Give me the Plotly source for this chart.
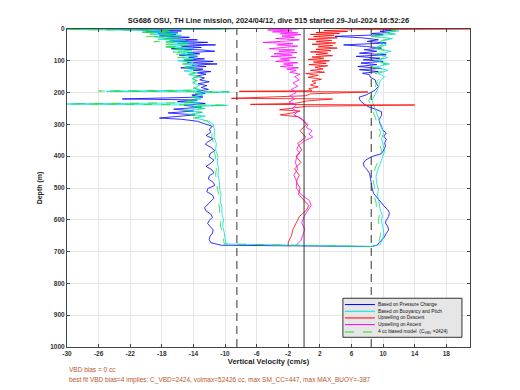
import plotly.graph_objects as go

# ---------------- data (depth in m, vertical velocity in cm/s) ----------------
blue_depth = [0, 1, 3, 6, 9, 12, 15, 18, 22, 26, 30, 34, 38, 42, 46, 50, 54, 58, 62, 66, 70, 74, 78, 82, 86, 90, 94, 98,
              102, 106, 110, 114, 118, 122, 126, 130, 134, 138, 142, 148, 154, 160, 166, 172, 178, 184, 190, 196, 202,
              208, 214, 220, 223, 228, 234, 240, 246, 252, 258, 264, 270, 276, 280, 284, 290, 298, 306, 315, 325, 335,
              345, 355, 362, 372, 382, 392, 402, 412, 422, 432, 442, 452, 462, 472, 482, 492, 502, 512, 522, 532, 542,
              552, 562, 572, 582, 592, 602, 612, 622, 632, 642, 652, 662, 672, 680, 684,
              680, 669, 656, 643, 632, 622, 610, 601, 590, 578, 569, 556, 543, 530, 517, 500, 485, 470, 455, 443, 432,
              422, 412, 401, 392, 380, 368, 359, 347, 337, 327, 316, 306, 296, 285, 272, 260, 252, 244, 236, 228, 220,
              214, 208, 202, 192, 181, 170, 160, 152, 144, 139, 134, 128, 124, 118, 112, 107, 102, 97, 92, 86, 81, 76,
              70, 65, 60, 55, 50, 44, 39, 34, 28, 23, 18, 14, 11, 7, 4, 2, 0]
blue_vel = [-10.5, -25, -19, -15.5, -20, -16, -18.5, -16.2, -18.3, -14.5, -17.5, -13.5, -16.8, -12.2, -16, -11.2, -15.5,
            -13, -16.8, -12.8, -11.3, -14.8, -13.2, -15.8, -13.5, -14.6, -12.6, -15.2, -11.5, -14.8, -11.0, -14.2,
            -12.4, -15.6, -12.8, -14.0, -11.8, -13.5, -12.4, -13.6, -12.6, -13.2, -12.0, -13.4, -12.3, -13.0, -12.1,
            -13.6, -12.5, -14.2, -12.8, -23, -13.5, -16.0, -12.5, -15.2, -13.0, -16.5, -14.0, -17.2, -13.8, -16.8,
            -18.3, -15.5, -13.5, -12.6, -11.6, -12.0, -11.8, -12.4, -11.5, -12.2, -12.5, -11.8, -11.3, -11.9, -12.0,
            -11.4, -11.8, -12.4, -11.7, -11.4, -12.0, -12.1, -11.5, -11.3, -12.2, -12.3, -11.6, -11.4, -11.8, -12.2,
            -12.6, -12.4, -11.8, -11.6, -12.0, -12.2, -11.8, -11.5, -11.6, -11.9, -12.0, -11.8, -10.5, 8.5,
            9.2, 9.6, 10.1, 10.4, 10.7, 10.6, 10.3, 10.4, 10.7, 10.8, 10.6, 10.1, 9.7, 9.2, 8.8, 8.6, 8.5, 8.4, 8.3,
            8.0, 7.6, 7.5, 7.8, 8.6, 9.8, 10.1, 10.3, 10.2, 10.4, 10.1, 10.4, 9.9, 9.8, 9.6, 9.5, 9.8, 9.8, 9.0, 8.1,
            7.6, 7.2, 7.0, 7.0, 7.8, 8.3, 9.0, 9.4, 9.1, 9.0, 8.4, 8.3, 7.4, 9.4, 7.0, 9.8, 6.8, 9.2, 7.2, 10.0, 7.5,
            9.6, 6.6, 10.4, 7.0, 9.2, 7.6, 9.8, 7.9, 5.0, 10.4, 8.0, 9.4, 7.5, 3.9, 10.0, 8.6, 10.8, 9.6, 11.2, 10.2,
            10.5]

cyan_depth = [0, 1, 4, 7, 10, 13, 16, 20, 24, 28, 32, 36, 40, 44, 48, 52, 56, 60, 64, 68, 72, 76, 80, 85, 90, 95, 100,
              105, 110, 115, 120, 126, 132, 138, 144, 150, 156, 162, 170, 178, 186, 192, 196, 198, 202, 208, 214, 220,
              226, 232, 236, 240, 244, 250, 256, 262, 268, 274, 280, 290, 300, 320, 340, 360, 380, 400, 420, 440, 460,
              480, 500, 520, 540, 560, 580, 600, 620, 640, 660, 676, 684,
              678, 665, 645, 625, 605, 585, 565, 545, 525, 505, 485, 465, 445, 425, 405, 385, 365, 345, 325, 305, 285,
              265, 245, 225, 205, 185, 165, 150, 140, 130, 120, 110, 100, 90, 80, 70, 60, 50, 40, 30, 22, 16, 10, 6, 3,
              0]
cyan_vel = [-8.8, -32, -21, -17, -20.5, -16, -19, -15.5, -19, -16, -18.5, -15, -17.5, -14.5, -17, -15, -17.5, -14,
            -16.5, -14.5, -16, -14, -15.5, -13.5, -15.5, -14, -16, -14, -15, -13.5, -15, -13.8, -15.2, -13.5, -14.5,
            -13.2, -14.2, -13.5, -14, -13.2, -13.8, -13.0, -25, -9.4, -13.5, -12.8, -14, -13, -14.5, -13.2, -31, -9.7,
            -14, -12.5, -15, -12.8, -14.5, -12.5, -13.8, -12, -11.5, -11.3, -11.4, -11.1, -11.2, -10.9, -11.0, -10.8,
            -10.9, -10.7, -10.7, -10.5, -10.6, -10.4, -10.4, -10.2, -10.3, -10.1, -10.0, -9.9, 8.6,
            9.6, 9.9, 10.1, 10.0, 9.8, 9.9, 9.6, 9.5, 9.3, 9.4, 9.2, 9.1, 9.3, 9.6, 9.9, 10.2, 10.0, 9.8, 10.1, 9.7,
            9.5, 9.2, 8.8, 8.6, 9.0, 9.4, 9.6, 10.2, 9.4, 10.6, 9.0, 10.8, 9.2, 10.6, 9.4, 11.0, 9.0, 10.4, 9.6, 11.2,
            8.5, 11.6, 10.4, 12.0, 11.0, 11.5]

red_depth = [0, 2, 5, 8, 11, 14, 17, 20, 24, 28, 32, 36, 40, 44, 48, 52, 56, 60, 64, 68, 72, 76, 80, 84, 88, 92, 96,
             100, 104, 108, 112, 116, 120, 126, 130, 136, 140, 146, 152, 158, 164, 170, 176, 182, 188, 194, 196, 198,
             204, 210, 218, 220, 226, 234, 237, 239, 243, 248, 254, 258, 264, 270, 276, 286, 300, 320, 340, 360, 380,
             400, 420, 440, 460, 480, 500, 520, 540, 555, 570, 590, 610, 630, 650, 670, 682]
red_vel = [25, 6.5, 2.5, 5.5, 1.5, 4.5, 0.8, 3.8, 1.2, 4.2, 0.5, 3.5, 1.5, 4.0, 1.0, 3.6, 1.8, 4.2, 1.5, 3.4, 0.8, 3.0,
           1.5, 3.6, 1.0, 2.5, 0.5, 3.2, 1.2, 2.8, 0.6, 3.0, 1.4, 2.4, 0.8, 2.6, 0.2, 1.8, 0.5, 2.2, 1.0, 1.5, 0.8, 1.8,
           0.6, 1.0, -8.2, 8.1, 0.8, 0.2, -9.2, 3.6, 0.5, -1.2, -6.8, 14, 0.3, -1, -3.1, -0.5, -1.5, -3.0, -0.8, -0.2,
           0.3, -0.5, 0.2, -0.8, -0.3, -1.0, -0.4, -1.2, -0.6, -1.0, -0.5, -0.7, 0.0, 0.6, 0.3, -0.6, -1.0, -1.4, -1.6,
           -2.0, -2.0]

mag_depth = [0, 3, 6, 9, 12, 15, 18, 22, 26, 30, 34, 38, 42, 46, 50, 54, 58, 62, 66, 70, 74, 78, 82, 86, 90, 94, 98,
             102, 106, 110, 114, 118, 122, 126, 130, 136, 142, 150, 160, 170, 180, 190, 200, 210, 220, 230, 240, 250,
             260, 270, 280, 290, 300, 310, 320, 330, 340, 350, 360, 370, 380, 390, 400, 420, 440, 460, 480, 500, 520,
             540, 555, 570, 590, 610, 630, 650, 665, 680]
mag_vel = [-0.8, -4.6, -1.5, -4.0, -0.8, -3.0, -0.4, -2.8, -1.2, -3.6, -0.6, -2.2, -5.2, -1.4, -3.4, -0.8, -2.6, -4.4,
           -1.2, -3.2, -0.9, -3.8, -1.5, -4.2, -1.0, -3.0, -1.8, -3.6, -0.8, -2.6, -1.4, -3.0, -0.7, -2.2, -1.0, -1.8,
           -0.5, -1.2, -0.6, -1.4, -0.8, -1.6, -1.0, -1.8, -1.2, -1.9, -1.0, -1.5, -0.8, -1.3, -0.4, 0.0, 0.5, 0.3,
           1.0, 0.6, 1.1, 0.2, -0.4, -0.8, -0.9, -0.5, -0.9, -1.1, -0.8, -1.3, -0.9, -1.0, -0.4, 0.7, 0.9, 0.5, 0.0,
           -0.3, 0.1, -0.2, -0.4, -1.0]

green_depth = [0, 1, 4, 7, 10, 13, 16, 20, 24, 28, 32, 36, 40, 44, 48, 52, 56, 60, 64, 68, 72, 76, 80, 85, 90, 95,
               100, 105, 110, 115, 120, 126, 132, 138, 144, 150, 156, 162, 170, 178, 186, 192, 195, 197, 202, 208,
               214, 220, 226, 232, 235, 239, 244, 250, 256, 262, 268, 274, 280, 290, 300, 320, 340, 360, 380, 400, 420,
               440, 460, 480, 500, 520, 540, 560, 580, 600, 620, 640, 660, 676, 684,
               678, 665, 645, 625, 605, 585, 565, 545, 525, 505, 485, 465, 445, 425, 405, 385, 365, 345, 325, 305, 285,
               265, 245, 225, 205, 185, 165, 150, 140, 130, 120, 110, 100, 90, 80, 70, 60, 50, 40, 30, 22, 16, 10, 6,
               3, 0]
green_vel = [-9.5, -31, -20, -16.5, -21, -17.5, -19.5, -16, -20, -15.5, -18, -16.5, -19, -15, -17.5, -14.8, -18,
             -15.2, -17, -14.2, -16.6, -14.8, -16.2, -14.0, -16.0, -14.4, -15.8, -13.8, -15.4, -14.0, -15.2, -13.6,
             -14.8, -13.8, -14.8, -13.4, -14.6, -13.6, -14.2, -13.4, -14.0, -13.2, -26, -9.5, -13.8, -13.0, -14.2,
             -13.4, -14.8, -13.5, -32, -9.8, -14.2, -12.8, -15.2, -13.0, -14.8, -12.8, -14.0, -12.3, -11.8, -11.6,
             -11.7, -11.4, -11.5, -11.2, -11.3, -11.1, -11.2, -11.0, -11.0, -10.8, -10.9, -10.7, -10.7, -10.5, -10.6,
             -10.3, -10.2, -10.1, 8.4,
             9.3, 9.5, 9.7, 9.6, 9.4, 9.5, 9.2, 9.1, 8.9, 9.0, 8.8, 8.7, 8.9, 9.2, 9.5, 9.8, 9.6, 9.4, 9.7, 9.3, 9.1,
             8.8, 8.4, 8.2, 8.6, 9.0, 9.2, 9.8, 9.0, 10.2, 8.6, 10.4, 8.8, 10.2, 9.0, 10.6, 8.6, 10.0, 9.2, 10.8, 8.1,
             11.2, 10.0, 11.6, 10.6, 11.0]

series_names = ["Based on Pressure Change", "Based on Buoyancy and Pitch", "Upwelling on Descent",
                "Upwelling on Ascent", "4 cc biased model  (C<sub>VBD</sub> =2424)"]
zero_line = [0.0]
dashed_lines = [-8.5, 8.5]
x_ticks = [-30, -26, -22, -18, -14, -10, -6, -2, 2, 6, 10, 14, 18]
y_ticks = [0, 100, 200, 300, 400, 500, 600, 700, 800, 900, 1000]
x_range = [-30, 21]
y_range = [1000, 0]

title_text = "SG686 OSU, TH Line mission, 2024/04/12, dive 515 started 29-Jul-2024 16:52:26"
note1 = "VBD bias = 0 cc"
note2 = "best fit VBD bias=4 implies: C_VBD=2424, volmax=52426 cc, max SM_CC=447, max MAX_BUOY=-387"

FONT = "Liberation Sans, Arial, sans-serif"
colors = ["#0000ff", "#00e0e0", "#ff0000", "#ff00ff", "#22dd33"]
dashes = ["solid", "solid", "solid", "solid", "dash"]

fig = go.Figure()
series = [(blue_vel, blue_depth), (cyan_vel, cyan_depth), (red_vel, red_depth), (mag_vel, mag_depth),
          (green_vel, green_depth)]
for (xs, ys), nm, c, d in zip(series, series_names, colors, dashes):
    fig.add_trace(go.Scatter(x=xs, y=ys, mode="lines", name=nm, showlegend=False,
                             line=dict(color=c, width=0.8, dash=d)))

for xv in zero_line:
    fig.add_shape(type="line", xref="x", yref="paper", x0=xv, x1=xv, y0=0, y1=1,
                  line=dict(color="#333333", width=1))
for xv in dashed_lines:
    fig.add_shape(type="line", xref="x", yref="paper", x0=xv, x1=xv, y0=0, y1=1,
                  line=dict(color="#333333", width=1, dash="8px,5px"))

# ---- hand-built compact legend (paper coordinates) ----
fig.add_shape(type="rect", xref="paper", yref="paper", x0=0.6846, x1=0.980, y0=0.0305, y1=0.1533,
              fillcolor="#e6e6e6", line=dict(color="#333333", width=1))
leg_y = [0.1335, 0.1124, 0.0913, 0.0705, 0.0472]
for yy, nm, c, d in zip(leg_y, series_names, colors, dashes):
    fig.add_shape(type="line", xref="paper", yref="paper", x0=0.6896, x1=0.764, y0=yy, y1=yy,
                  line=dict(color=c, width=1, dash=d))
    fig.add_annotation(text=nm, xref="paper", yref="paper", x=0.767, y=yy, xanchor="left", yanchor="middle",
                       showarrow=False, font=dict(family=FONT, size=4.8, color="#111111"))

axis_common = dict(showgrid=True, gridcolor="#e6e6e6", gridwidth=1, zeroline=False,
                   showline=True, linecolor="#444444", linewidth=1, mirror="ticks",
                   ticks="inside", ticklen=3, tickcolor="#444444",
                   tickfont=dict(family=FONT, size=6.5, color="#333333", weight="bold"))

fig.update_xaxes(range=x_range, tickvals=x_ticks, ticktext=[str(v) for v in x_ticks],
                 title=dict(text="Vertical Velocity (cm/s)", standoff=2,
                            font=dict(family=FONT, size=7.5, color="#222222", weight="bold")),
                 **axis_common)
fig.update_yaxes(range=y_range, tickvals=y_ticks, ticktext=[str(v) for v in y_ticks],
                 title=dict(text="Depth (m)", standoff=6,
                            font=dict(family=FONT, size=7, color="#222222", weight="bold")),
                 **axis_common)

fig.add_annotation(text=note1, xref="paper", yref="paper", x=0, y=-0.072, xanchor="left", yanchor="middle",
                   showarrow=False, font=dict(family=FONT, size=6.5, color="#c0562c"))
fig.add_annotation(text=note2, xref="paper", yref="paper", x=0, y=-0.103, xanchor="left", yanchor="middle",
                   showarrow=False, font=dict(family=FONT, size=6.5, color="#c0562c"))

fig.update_layout(
    width=520, height=390,
    margin=dict(l=67, r=50, t=29, b=43, autoexpand=False),
    paper_bgcolor="white", plot_bgcolor="white",
    title=dict(text="<b>" + title_text + "</b>", x=0.5, xref="paper", y=0.948, yref="container",
               xanchor="center", yanchor="middle", font=dict(family=FONT, size=7.5, color="#1a1a1a")),
    showlegend=False,
)

fig.write_html("out.html", config={"displayModeBar": False},
               post_script="document.body.style.margin='0';")
